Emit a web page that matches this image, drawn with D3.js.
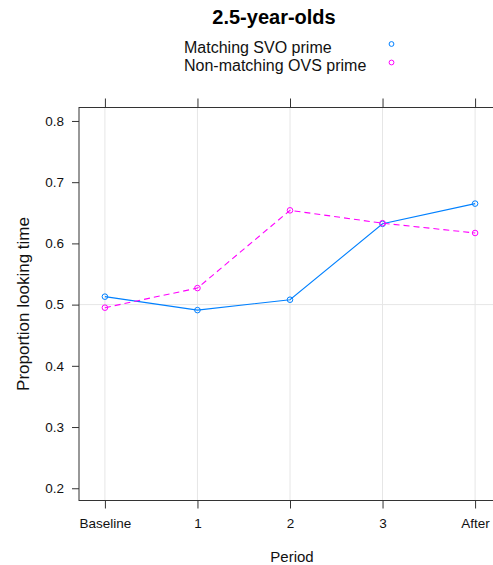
<!DOCTYPE html>
<html>
<head>
<meta charset="utf-8">
<script src="https://cdn.jsdelivr.net/npm/d3@7"></script>
<style>
  body { margin: 0; background: #fff; }
  svg { display: block; font-family: "Liberation Sans", Arial, sans-serif; }
</style>
</head>
<body>
<svg id="chart" width="493" height="565"></svg>
<script>
// Looking-time proportions per period
const periods = ["Baseline", "1", "2", "3", "After"];
const matchingSVO = [0.513, 0.491, 0.508, 0.632, 0.665];
const nonMatchingOVS = [0.495, 0.527, 0.654, 0.633, 0.617];
const yTicks = [0.2, 0.3, 0.4, 0.5, 0.6, 0.7, 0.8];
const seriesNames = ["Matching SVO prime", "Non-matching OVS prime"];
const seriesColors = ["#0080ff", "#ff00ff"];

const svg = d3.select("#chart");
const panel = { left: 79, top: 107.5, right: 501, bottom: 500.5 };

// Category positions 1..5 with lattice-style 7% padding
const x = d3.scaleLinear().domain([0.72, 5.28]).range([panel.left, panel.right]);
const y = d3.scaleLinear().domain([0.18, 0.822]).range([panel.bottom, panel.top]);

const g = svg.append("g");

// Reference grid: verticals at each period, horizontal at 0.5
g.selectAll("line.vgrid").data(periods).enter().append("line")
  .attr("x1", (d, i) => x(i + 1)).attr("x2", (d, i) => x(i + 1))
  .attr("y1", panel.top).attr("y2", panel.bottom)
  .attr("stroke", "#e6e6e6").attr("stroke-width", 1);
g.append("line")
  .attr("x1", panel.left).attr("x2", panel.right)
  .attr("y1", y(0.5)).attr("y2", y(0.5))
  .attr("stroke", "#e6e6e6").attr("stroke-width", 1);

// Panel border
g.append("rect")
  .attr("x", panel.left).attr("y", panel.top)
  .attr("width", panel.right - panel.left).attr("height", panel.bottom - panel.top)
  .attr("fill", "none").attr("stroke", "#333").attr("stroke-width", 1);

const font = "'Liberation Sans', Arial, sans-serif";

// Left axis
const yAxis = d3.axisLeft(y).tickValues(yTicks).tickFormat(d3.format(".1f")).tickSize(7).tickPadding(8);
svg.append("g").attr("transform", `translate(${panel.left},0)`).call(yAxis)
  .call(a => a.select(".domain").remove())
  .call(a => a.selectAll("line").attr("stroke", "#333"))
  .call(a => a.selectAll("text").attr("font-size", 13.5).attr("fill", "#111").attr("font-family", font));

// Bottom axis
const xAxis = d3.axisBottom(x).tickValues([1, 2, 3, 4, 5])
  .tickFormat((d) => periods[d - 1]).tickSize(8).tickPadding(10);
svg.append("g").attr("transform", `translate(0,${panel.bottom})`).call(xAxis)
  .call(a => a.select(".domain").remove())
  .call(a => a.selectAll("line").attr("stroke", "#333"))
  .call(a => a.selectAll("text").attr("font-size", 13.5).attr("fill", "#111").attr("font-family", font));

// Top ticks (no labels)
const xTop = d3.axisTop(x).tickValues([1, 2, 3, 4, 5]).tickFormat("").tickSize(9);
svg.append("g").attr("transform", `translate(0,${panel.top})`).call(xTop)
  .call(a => a.select(".domain").remove())
  .call(a => a.selectAll("line").attr("stroke", "#333"));

// Series
const series = [
  { name: seriesNames[0], values: matchingSVO, color: seriesColors[0], dash: null },
  { name: seriesNames[1], values: nonMatchingOVS, color: seriesColors[1], dash: "6,4" }
];
const line = d3.line().x((d, i) => x(i + 1)).y(d => y(d));

series.forEach(s => {
  g.append("path").datum(s.values)
    .attr("d", line).attr("fill", "none")
    .attr("stroke", s.color).attr("stroke-width", 1.1)
    .attr("stroke-dasharray", s.dash);
  g.selectAll(null).data(s.values).enter().append("circle")
    .attr("cx", (d, i) => x(i + 1)).attr("cy", d => y(d)).attr("r", 2.8)
    .attr("fill", "none").attr("stroke", s.color).attr("stroke-width", 1);
});

// Title
svg.append("text").attr("x", 274).attr("y", 23.5).attr("text-anchor", "middle")
  .attr("font-size", 20).attr("font-weight", "bold").attr("fill", "#000")
  .text("2.5-year-olds");

// Legend
series.forEach((s, i) => {
  const ly = 44 + i * 18.5;
  svg.append("text").attr("x", 184).attr("y", 52.5 + i * 18.5)
    .attr("font-size", 16).attr("fill", "#111").text(s.name);
  svg.append("circle").attr("cx", 391.5).attr("cy", ly).attr("r", 2.4)
    .attr("fill", "none").attr("stroke", s.color).attr("stroke-width", 1);
});

// Axis titles
svg.append("text").attr("x", 292).attr("y", 562).attr("text-anchor", "middle")
  .attr("font-size", 15).attr("fill", "#111").text("Period");
svg.append("text").attr("transform", `translate(29,${(212 + 396) / 2}) rotate(-90)`)
  .attr("text-anchor", "middle").attr("font-size", 17).attr("fill", "#111")
  .text("Proportion looking time");
</script>
</body>
</html>
